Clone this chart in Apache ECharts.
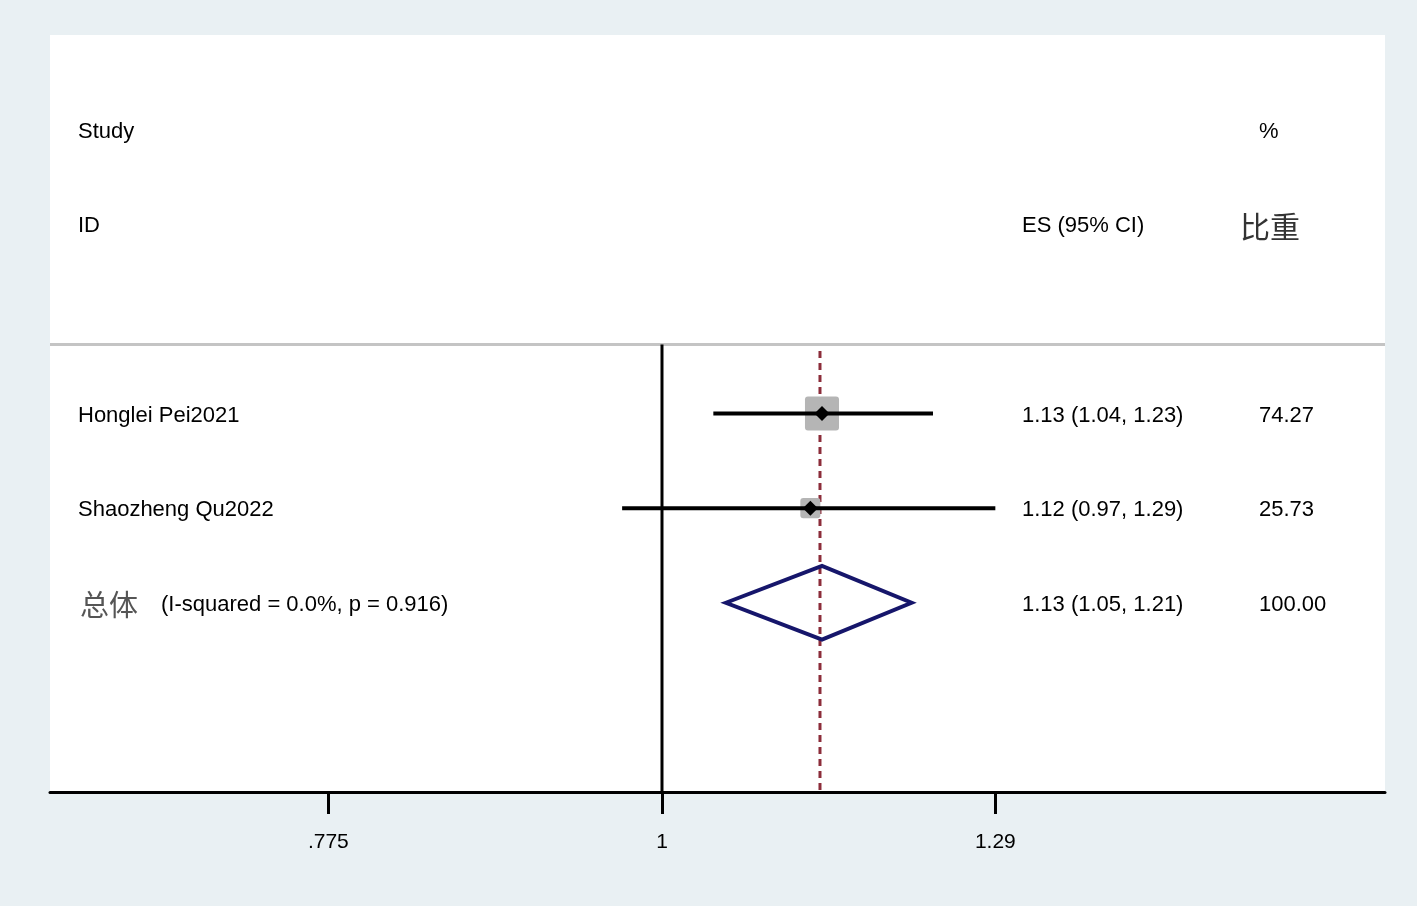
<!DOCTYPE html>
<html>
<head>
<meta charset="utf-8">
<script src="https://cdn.jsdelivr.net/npm/echarts@6/dist/echarts.min.js"></script>
<style>
  html, body { margin: 0; padding: 0; background: #e9f0f3; }
  #main { width: 1417px; height: 906px; }
</style>
</head>
<body>
<div id="main"></div>
<script>
// 研究数据
var studies = ['Honglei Pei2021', 'Shaozheng Qu2022'];
var esValues = [1.13, 1.12];
var lowerCI = [1.04, 0.97];
var upperCI = [1.23, 1.29];
var weights = [74.27, 25.73];

// 合并结果
var pooledEs = 1.13;
var pooledLower = 1.05;
var pooledUpper = 1.21;
var pooledWeight = 100.00;
var heterogeneity = '(I-squared = 0.0%, p = 0.916)';

// 横轴刻度
var tickValues = [0.775, 1, 1.29];
var tickLabels = ['.775', '1', '1.29'];

var FONT = '"Liberation Sans", Arial, sans-serif';
var CJK = '"Noto Sans CJK SC", sans-serif';
var firstRow = 4;
var pooledRow = 6;
var sepRow = 3.27;

var chart = echarts.init(document.getElementById('main'));

function fmtCI(e, l, u) {
  return e.toFixed(2) + ' (' + l.toFixed(2) + ', ' + u.toFixed(2) + ')';
}

var studyData = studies.map(function (s, i) {
  return [Math.log(lowerCI[i]), Math.log(esValues[i]), Math.log(upperCI[i]), firstRow + i, weights[i]];
});
var pooledData = [[Math.log(pooledLower), Math.log(pooledEs), Math.log(pooledUpper), pooledRow]];

var option = {
  backgroundColor: '#e9f0f3',
  animation: false,
  grid: {
    left: 50, right: 32, top: 35, bottom: 114,
    show: true, backgroundColor: '#fff', borderWidth: 0
  },
  xAxis: {
    type: 'value',
    position: 'bottom',
    min: -0.4675,
    max: 0.5523,
    axisLine: { show: true, onZero: false, lineStyle: { color: '#000', width: 3 } },
    axisTick: {
      show: true,
      customValues: tickValues.map(Math.log),
      length: 22,
      lineStyle: { color: '#000', width: 3 }
    },
    axisLabel: {
      customValues: tickValues.map(Math.log),
      margin: 40,
      fontSize: 21,
      fontFamily: FONT,
      color: '#000',
      formatter: function (v) {
        for (var i = 0; i < tickValues.length; i++) {
          if (Math.abs(Math.log(tickValues[i]) - v) < 1e-6) return tickLabels[i];
        }
        return '';
      }
    },
    splitLine: { show: false }
  },
  yAxis: {
    type: 'value',
    min: 0,
    max: 8,
    inverse: true,
    show: false
  },
  series: [
    {
      // 分隔线、无效线、合并效应虚线
      type: 'custom',
      z: 1,
      data: [[0]],
      renderItem: function (params, api) {
        var cs = params.coordSys;
        var ySep = api.coord([0, sepRow])[1];
        var yBot = api.coord([0, 8])[1];
        var x0 = api.coord([0, 0])[0];
        var xp = api.coord([Math.log(pooledEs), 0])[0] - 2;
        var yDash = api.coord([0, 3.34])[1];
        return {
          type: 'group',
          children: [
            { type: 'line', shape: { x1: cs.x, y1: ySep, x2: cs.x + cs.width, y2: ySep },
              style: { stroke: '#c4c4c4', lineWidth: 3 } },
            { type: 'line', shape: { x1: x0, y1: ySep, x2: x0, y2: yBot },
              style: { stroke: '#000', lineWidth: 3 } },
            { type: 'line', shape: { x1: xp, y1: yDash, x2: xp, y2: yBot },
              style: { stroke: '#8c2d3a', lineWidth: 3, lineDash: [7, 5] } }
          ]
        };
      }
    },
    {
      type: 'custom',
      z: 3,
      data: studyData,
      renderItem: function (params, api) {
        var lo = api.coord([api.value(0), api.value(3)]);
        var mid = api.coord([api.value(1), api.value(3)]);
        var hi = api.coord([api.value(2), api.value(3)]);
        var box = 3.95 * Math.sqrt(api.value(4));
        var d = 7.5;
        return {
          type: 'group',
          children: [
            { type: 'rect', shape: { x: mid[0] - box / 2, y: mid[1] - box / 2, width: box, height: box, r: 3 },
              style: { fill: '#b5b5b5' } },
            { type: 'line', shape: { x1: lo[0], y1: lo[1], x2: hi[0], y2: hi[1] },
              style: { stroke: '#000', lineWidth: 4 } },
            { type: 'polygon', shape: { points: [[mid[0] - d, mid[1]], [mid[0], mid[1] - d], [mid[0] + d, mid[1]], [mid[0], mid[1] + d]] },
              style: { fill: '#000' } }
          ]
        };
      }
    },
    {
      type: 'custom',
      z: 3,
      data: pooledData,
      renderItem: function (params, api) {
        var row = api.value(3);
        var lo = api.coord([api.value(0), row]);
        var hi = api.coord([api.value(2), row]);
        var top = api.coord([api.value(1), row - 0.39]);
        var bot = api.coord([api.value(1), row + 0.39]);
        return {
          type: 'polygon',
          shape: { points: [lo, top, hi, bot] },
          style: { fill: 'rgba(255,255,255,0)', stroke: '#16166b', lineWidth: 4, lineJoin: 'miter' }
        };
      }
    }
  ]
};

chart.setOption(option);

// 文本列
function rowY(r) { return chart.convertToPixel({ gridIndex: 0 }, [0, r])[1] + 2; }
function txt(x, y, s, opts) {
  opts = opts || {};
  return {
    type: 'text', x: x, y: y, z: 10,
    style: {
      text: s,
      fontSize: opts.size || 22,
      fontFamily: opts.font || FONT,
      fill: opts.color || '#000',
      verticalAlign: 'middle',
      align: 'left'
    }
  };
}

var g = [];
g.push(txt(78, rowY(1), 'Study'));
g.push(txt(1259, rowY(1), '%'));
g.push(txt(78, rowY(2), 'ID'));
g.push(txt(1022, rowY(2), 'ES (95% CI)'));
g.push(txt(1240, rowY(2), '比重', { size: 30, font: CJK, color: '#333' }));
studies.forEach(function (s, i) {
  var y = rowY(firstRow + i);
  g.push(txt(78, y, s));
  g.push(txt(1022, y, fmtCI(esValues[i], lowerCI[i], upperCI[i])));
  g.push(txt(1259, y, weights[i].toFixed(2)));
});
var py = rowY(pooledRow);
g.push(txt(80, py, '总体', { size: 29, font: CJK, color: '#555' }));
g.push(txt(161, py, heterogeneity));
g.push(txt(1022, py, fmtCI(pooledEs, pooledLower, pooledUpper)));
g.push(txt(1259, py, pooledWeight.toFixed(2)));

chart.setOption({ graphic: g });
</script>
</body>
</html>
